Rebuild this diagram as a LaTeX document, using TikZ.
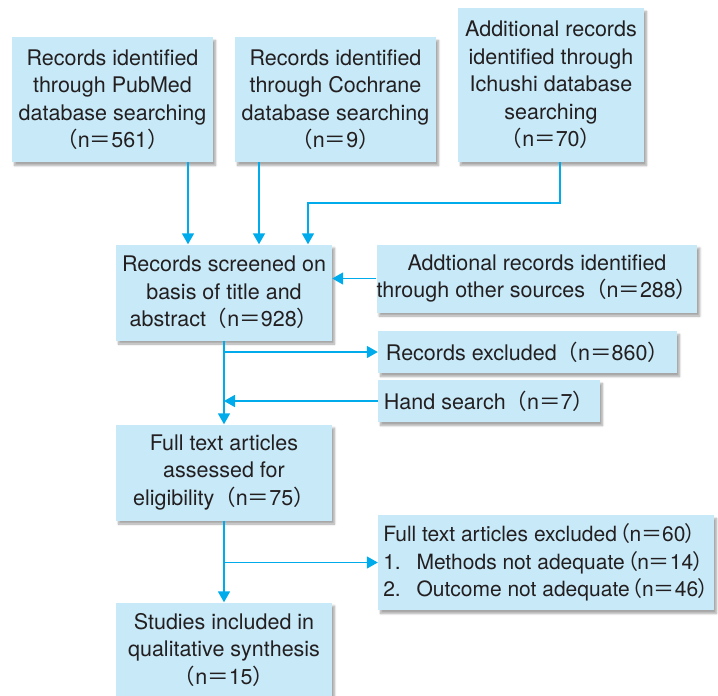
\documentclass[tikz,border=0pt]{standalone}
\usepackage{fontspec}
\setmainfont{TeX Gyre Heros}
\newfontfamily\cjk{Noto Sans CJK JP}
\newfontfamily\cjktight[RawFeature=+palt]{Noto Sans CJK JP}
\usetikzlibrary{arrows.meta,shadows.blur}
\definecolor{boxblue}{RGB}{199,233,248}
\definecolor{flowcyan}{RGB}{0,171,235}
\definecolor{textgray}{RGB}{35,31,32}
\newcommand{\cnt}[1]{{\cjk （}n{\cjk ＝}#1{\cjk ）}}
\newcommand{\tcnt}[1]{\hspace{2pt}{\cjktight （}n{\cjk ＝}#1{\cjktight ）}}
\begin{document}
\begin{tikzpicture}[
    x=1pt, y=-1pt,
    every node/.style={
      font=\fontsize{21.5}{27.5}\selectfont,
      text=textgray
    },
    record/.style={
      fill=boxblue,
      inner sep=0pt,
      align=center,
      blur shadow={shadow xshift=2.5pt, shadow yshift=-3.5pt,
        shadow blur steps=6, shadow opacity=35}
    },
    flow/.style={
      draw=flowcyan,
      line width=1.6pt,
      -{Triangle[length=11pt,width=12pt]}
    }
  ]
    \useasboundingbox (0,0) rectangle (718,696);

    % identification
    \node[record, minimum width=201pt, minimum height=125pt] (pubmed) at (112.5,99.5)
      {Records identified\\through PubMed\\database searching\\\cnt{561}};
    \node[record, minimum width=201pt, minimum height=125pt] (cochrane) at (335.5,99.5)
      {Records identified\\through Cochrane\\database searching\\\cnt{9}};
    \node[record, minimum width=186pt, minimum height=154pt] (ichushi) at (551,85)
      {Additional records\\identified through\\Ichushi database\\searching\\\cnt{70}};

    % screening
    \node[record, minimum width=216pt, minimum height=96pt] (screen) at (224,292.5)
      {Records screened on\\basis of title and\\abstract\cnt{928}};
    \node[record, minimum width=318pt, minimum height=68pt] (other) at (537,278.5)
      {Addtional records identified\\through other sources\cnt{288}};
    \node[record, minimum width=299pt, minimum height=42pt] (excl) at (527.5,352)
      {Records excluded\cnt{860}};
    \node[record, minimum width=222pt, minimum height=42pt] (hand) at (489,401)
      {Hand search\cnt{7}};

    % eligibility and inclusion
    \node[record, minimum width=216pt, minimum height=96pt] (full) at (224,472.5)
      {Full text articles\\assessed for\\eligibility\cnt{75}};
    \node[record, minimum width=336pt, minimum height=95pt, align=left,
          font=\fontsize{21}{27.5}\selectfont] (fullex) at (546,562.5)
      {Full text articles excluded\tcnt{60}\\
       1.\hspace{0.75em}Methods not adequate\tcnt{14}\\
       2.\hspace{0.75em}Outcome not adequate\tcnt{46}};
    \node[record, minimum width=216pt, minimum height=94pt] (studies) at (224,649.5)
      {Studies included in\\qualitative synthesis\\\cnt{15}};

    \draw[flow] ([xshift=75.5pt]pubmed.south) -- ([xshift=75.5pt]pubmed.south |- screen.north);
    \draw[flow] ([xshift=-76.5pt]cochrane.south) -- ([xshift=-76.5pt]cochrane.south |- screen.north);
    \draw[flow] ([xshift=9pt]ichushi.south) -- ++(0,41) -| ([xshift=84pt]screen.north);
    \draw[flow] (other.west) -- (other.west -| screen.east);
    \draw[flow] (screen.south) -- (full.north);
    \draw[flow] (screen.south |- excl.west) -- (excl.west);
    \draw[flow] (hand.west) -- (hand.west -| screen.south);
    \draw[flow] (full.south) -- (studies.north);
    \draw[flow] (full.south |- fullex.west) -- (fullex.west);
  \end{tikzpicture}
\end{document}
